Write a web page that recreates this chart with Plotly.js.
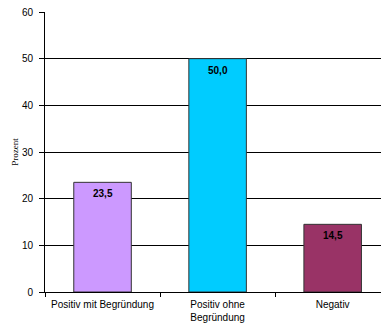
<!DOCTYPE html>
<html><head><meta charset="utf-8">
<script src="https://cdn.plot.ly/plotly-3.0.1.min.js"></script>
<style>html,body{margin:0;padding:0;background:#fff}#c{width:381px;height:324px}</style>
</head><body><div id="c"></div>
<script>
const categories = ["Positiv mit Begründung", "Positiv ohne<br>Begründung", "Negativ"];
const values = [23.5, 50.0, 14.5];
const labels = ["23,5", "50,0", "14,5"];
const colors = ["#CC99FF", "#00CCFF", "#993366"];

const annotations = categories.map((c, i) => ({
  x: c, y: values[i], xref: "x", yref: "y",
  text: "<b>" + labels[i] + "</b>",
  showarrow: false, yanchor: "top", yshift: -4,
  font: {family: "Arial, Liberation Sans, sans-serif", size: 10, color: "#000"}
}));

Plotly.newPlot("c", [{
  type: "bar",
  x: categories,
  y: values,
  width: 0.5,
  marker: {color: colors, line: {color: "#333333", width: 1}},
  hoverinfo: "none"
}], {
  width: 381, height: 324,
  margin: {l: 45, r: 0, t: 12, b: 32},
  paper_bgcolor: "#fff", plot_bgcolor: "#fff",
  showlegend: false,
  annotations: annotations,
  font: {family: "Arial, Liberation Sans, sans-serif", size: 10, color: "#000"},
  xaxis: {
    type: "category",
    range: [-0.5, 2.42],
    showline: true, linecolor: "#000", linewidth: 1,
    ticks: "outside", ticklen: 4, tickcolor: "#000",
    tickson: "boundaries",
    ticklabelstandoff: 3,
    showgrid: false,
    tickfont: {size: 10}
  },
  yaxis: {
    range: [0, 60], dtick: 10,
    showline: true, linecolor: "#000", linewidth: 1,
    ticks: "outside", ticklen: 5, tickcolor: "#000",
    ticklabelstandoff: 4,
    showgrid: true, gridcolor: "#000", gridwidth: 1,
    zeroline: false,
    tickfont: {size: 10},
    title: {text: "Prozent", font: {family: "Liberation Serif, Times New Roman, serif", size: 9}, standoff: 1}
  }
}, {displayModeBar: false, staticPlot: true});
</script></body></html>
